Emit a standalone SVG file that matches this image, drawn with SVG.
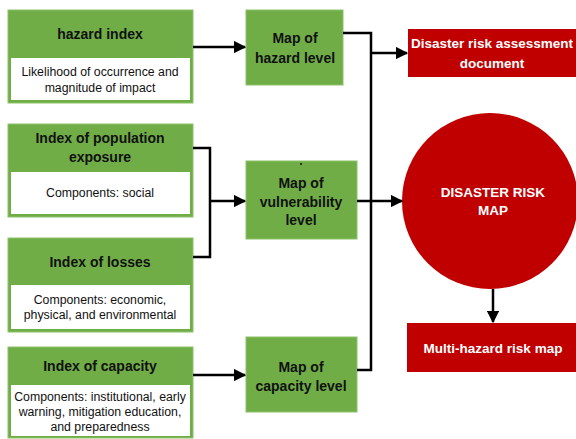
<svg xmlns="http://www.w3.org/2000/svg" width="576" height="439" viewBox="0 0 576 439">
<style>
.g{fill:#70AD47;stroke:#8CC168;stroke-width:1}
.w{fill:#fff;stroke:none}
.r{fill:#C00000}
.t{font-family:"Liberation Sans",Arial,sans-serif;font-weight:bold;font-size:14px;fill:#111;text-anchor:middle}
.s{font-family:"Liberation Sans",Arial,sans-serif;font-size:12.3px;fill:#111;text-anchor:middle}
.rt{font-family:"Liberation Sans",Arial,sans-serif;font-weight:bold;font-size:13.5px;fill:#fff;text-anchor:middle}
.c{fill:none;stroke:#000;stroke-width:2.5}
</style>
<defs>
<marker id="a" viewBox="0 0 10 10" refX="9" refY="5" markerWidth="5" markerHeight="5" orient="auto" markerUnits="strokeWidth">
<path d="M0,0 L10,5 L0,10 z" fill="#000"/>
</marker>
</defs>
<g id="hazard-index">
<rect class="g" x="8" y="10" width="185" height="93"/>
<rect class="w" x="11" y="58" width="179" height="42"/>
<text class="t" x="100" y="39">hazard index</text>
<text class="s" x="100" y="76">Likelihood of occurrence and</text>
<text class="s" x="100" y="92">magnitude of impact</text>
</g>
<g id="population-exposure">
<rect class="g" x="8" y="124" width="185" height="93"/>
<rect class="w" x="11" y="172" width="179" height="42"/>
<text class="t" x="100" y="143">Index of population</text>
<text class="t" x="100" y="162">exposure</text>
<text class="s" x="100" y="197">Components: social</text>
</g>
<g id="losses">
<rect class="g" x="8" y="238" width="185" height="94"/>
<rect class="w" x="11" y="285" width="179" height="44"/>
<text class="t" x="100" y="267">Index of losses</text>
<text class="s" x="100" y="304">Components: economic,</text>
<text class="s" x="100" y="319">physical, and environmental</text>
</g>
<g id="capacity">
<rect class="g" x="8" y="347" width="185" height="91"/>
<rect class="w" x="11" y="385" width="179" height="51"/>
<text class="t" x="100" y="371">Index of capacity</text>
<text class="s" x="100" y="401">Components: institutional, early</text>
<text class="s" x="100" y="416">warning, mitigation education,</text>
<text class="s" x="100" y="431">and preparedness</text>
</g>
<g id="map-hazard">
<rect class="g" x="246" y="10" width="97" height="75"/>
<text class="t" x="295" y="43">Map of</text>
<text class="t" x="295" y="63">hazard level</text>
</g>
<g id="map-vulnerability">
<rect class="g" x="246" y="161" width="111" height="78"/>
<circle cx="301" cy="164" r="1" fill="#111"/>
<text class="t" x="301" y="188">Map of</text>
<text class="t" x="301" y="207">vulnerability</text>
<text class="t" x="301" y="225">level</text>
</g>
<g id="map-capacity">
<rect class="g" x="246" y="337" width="111" height="75"/>
<text class="t" x="301" y="372">Map of</text>
<text class="t" x="301" y="391">capacity level</text>
</g>
<g id="assessment-document">
<rect class="r" x="408" y="29" width="170" height="48"/>
<text class="rt" x="492" y="48">Disaster risk assessment</text>
<text class="rt" x="492" y="68">document</text>
</g>
<g id="risk-map">
<circle class="r" cx="490" cy="201" r="88"/>
<text class="rt" x="493" y="197">DISASTER RISK</text>
<text class="rt" x="493" y="215">MAP</text>
</g>
<g id="multi-hazard">
<rect class="r" x="407" y="323" width="171" height="49"/>
<text class="rt" x="493" y="353">Multi-hazard risk map</text>
</g>
<g id="connectors">
<path class="c" d="M193,47 H245" marker-end="url(#a)"/>
<path class="c" d="M193,148 H210 V257 H193"/>
<path class="c" d="M210,201 H245" marker-end="url(#a)"/>
<path class="c" d="M193,375 H245" marker-end="url(#a)"/>
<path class="c" d="M343,33 H371 V370 H357"/>
<path class="c" d="M371,53 H407" marker-end="url(#a)"/>
<path class="c" d="M357,201 H402" marker-end="url(#a)"/>
<path class="c" d="M493,289 V322" marker-end="url(#a)"/>
</g>
</svg>
